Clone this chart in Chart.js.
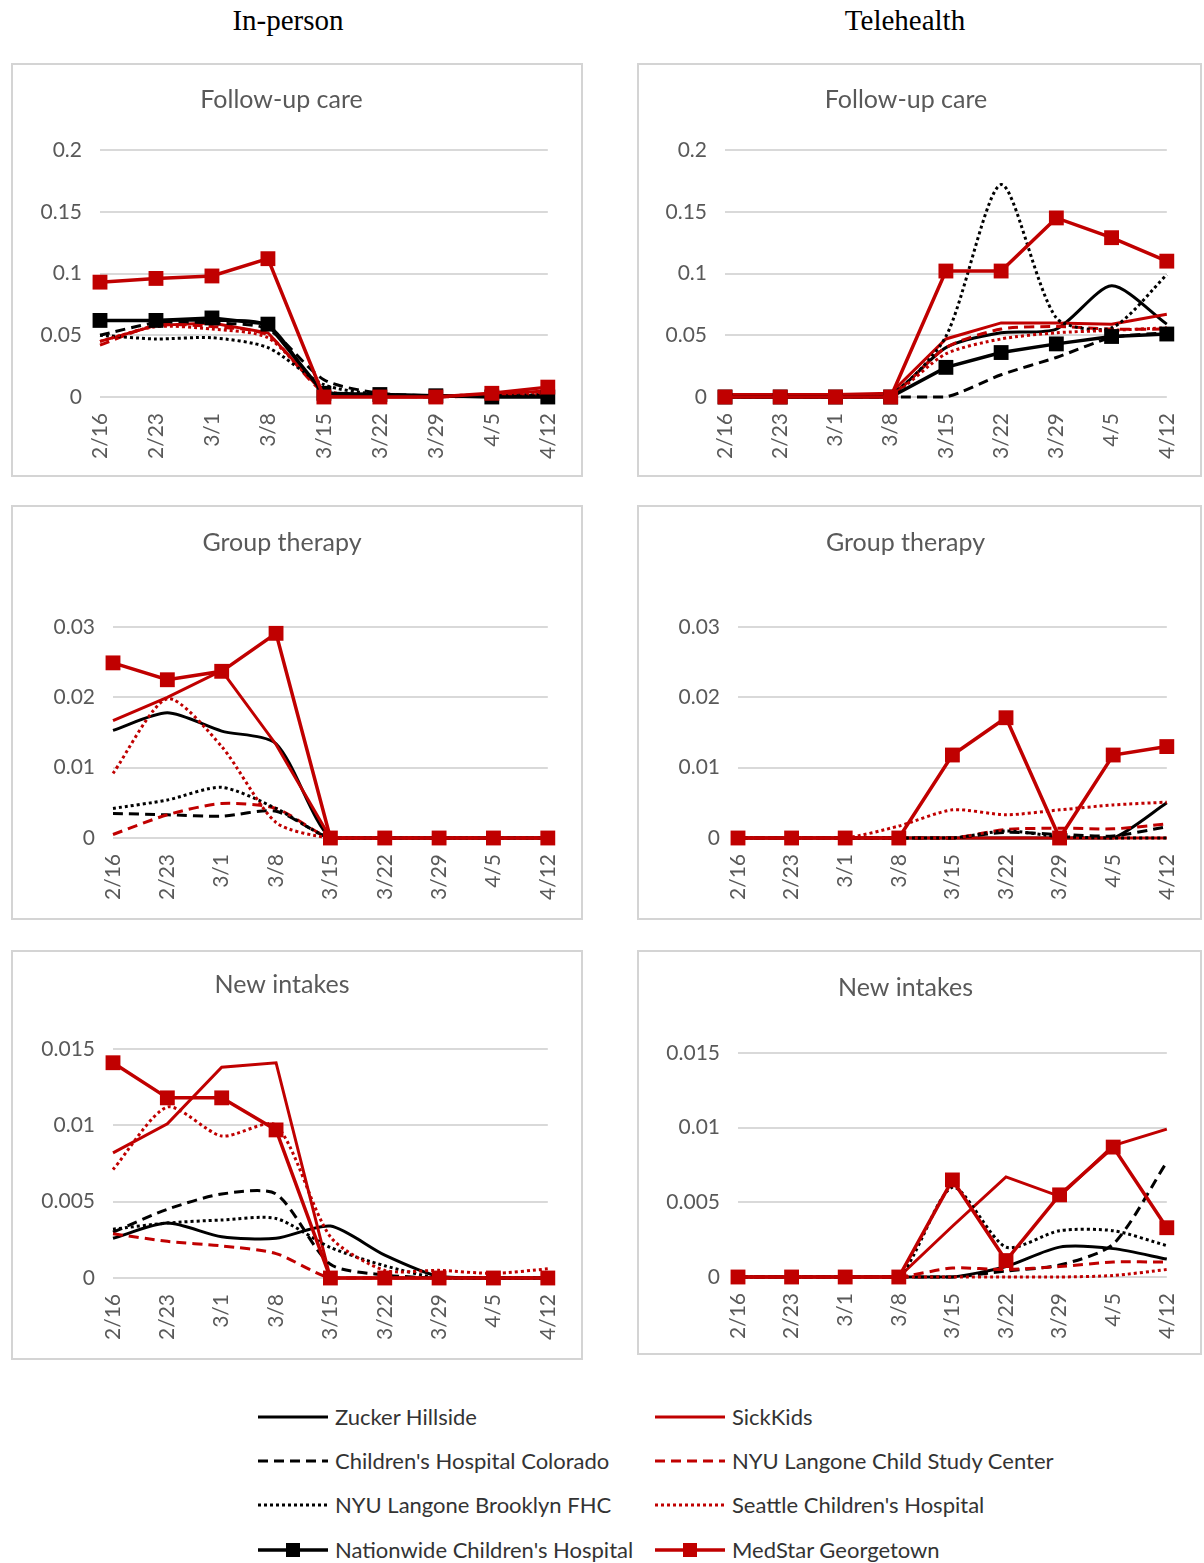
<!DOCTYPE html>
<html>
<head>
<title>Weekly visits by modality</title>
<script src="https://cdn.jsdelivr.net/npm/chart.js"></script>
<style>
  body { margin: 0; background: #fff; font-family: Lato, sans-serif; }
  #page { position: relative; width: 1204px; height: 1563px; }
  .head { position: absolute; top: 4px; font-family: "Liberation Serif", serif; font-size: 29px; color: #000; transform: translateX(-50%); }
  .panel { position: absolute; border: 2px solid #d4d4d4; box-sizing: border-box; background: #fff; }
  .panel canvas { position: absolute; left: 0; top: 0; }
  .leg { position: absolute; font-family: Lato, sans-serif; font-size: 22px; color: #333; white-space: nowrap; }
</style>
</head>
<body>
<div id="page">
  <div class="head" style="left:288px">In-person</div>
  <div class="head" style="left:905px">Telehealth</div>
</div>
<script>
// weeks and sites (rows of each panel follow the hospitals order)
const weeks = ['2/16', '2/23', '3/1', '3/8', '3/15', '3/22', '3/29', '4/5', '4/12'];
const hospitals = ['Zucker Hillside', 'SickKids', "Children's Hospital Colorado", 'NYU Langone Child Study Center',
  'NYU Langone Brooklyn FHC', "Seattle Children's Hospital", "Nationwide Children's Hospital", 'MedStar Georgetown'];

const inPersonFollowUp = [
  [0.062, 0.062, 0.062, 0.058, 0.005, 0.002, 0.001, 0.001, 0.001],
  [0.045, 0.058, 0.060, 0.052, 0.003, 0, 0, 0.002, 0.005],
  [0.050, 0.060, 0.060, 0.055, 0.014, 0.003, 0.001, 0.001, 0.001],
  [0.042, 0.058, 0.057, 0.050, 0.004, 0.001, 0, 0.001, 0.002],
  [0.050, 0.047, 0.048, 0.040, 0.010, 0.002, 0.001, 0.001, 0.002],
  [0.045, 0.057, 0.055, 0.048, 0.006, 0.001, 0.001, 0.002, 0.004],
  [0.062, 0.062, 0.064, 0.059, 0.003, 0.002, 0.001, 0, 0],
  [0.093, 0.096, 0.098, 0.112, 0, 0, 0, 0.003, 0.008]
];
const teleFollowUp = [
  [0, 0, 0, 0.002, 0.040, 0.052, 0.055, 0.090, 0.059],
  [0.002, 0.002, 0.002, 0.003, 0.047, 0.060, 0.060, 0.059, 0.067],
  [0, 0, 0, 0, 0, 0.018, 0.032, 0.048, 0.052],
  [0.002, 0.002, 0.002, 0.002, 0.040, 0.055, 0.057, 0.055, 0.055],
  [0, 0, 0, 0.002, 0.049, 0.172, 0.064, 0.056, 0.099],
  [0.002, 0.002, 0.002, 0.002, 0.035, 0.047, 0.052, 0.054, 0.056],
  [0, 0, 0, 0, 0.024, 0.036, 0.043, 0.049, 0.051],
  [0, 0, 0, 0, 0.102, 0.102, 0.145, 0.129, 0.110]
];
// Nationwide has no group therapy or intake series
const inPersonGroup = [
  [0.0153, 0.0178, 0.0152, 0.0134, 0, 0, 0, 0, 0],
  [0.0167, 0.0200, 0.0238, 0.0133, 0, 0, 0, 0, 0],
  [0.0035, 0.0033, 0.0031, 0.0038, 0, 0, 0, 0, 0],
  [0.0005, 0.0033, 0.0049, 0.0042, 0, 0, 0, 0, 0],
  [0.0042, 0.0054, 0.0072, 0.0042, 0, 0, 0, 0, 0],
  [0.0092, 0.0198, 0.0130, 0.0022, 0, 0, 0, 0, 0],
  [],
  [0.0249, 0.0225, 0.0237, 0.0291, 0, 0, 0, 0, 0]
];
const teleGroup = [
  [0, 0, 0, 0, 0, 0, 0, 0, 0.0050],
  [0, 0, 0, 0, 0, 0, 0, 0, 0],
  [0, 0, 0, 0, 0, 0.0008, 0.0005, 0.0003, 0.0016],
  [0, 0, 0, 0, 0, 0.0012, 0.0014, 0.0013, 0.0020],
  [0, 0, 0, 0, 0, 0.0010, 0.0002, 0, 0],
  [0, 0, 0, 0.0017, 0.0040, 0.0033, 0.0040, 0.0047, 0.0051],
  [],
  [0, 0, 0, 0, 0.0118, 0.0171, 0, 0.0118, 0.0130]
];
const inPersonIntakes = [
  [0.0026, 0.0036, 0.0027, 0.0026, 0.0034, 0.0015, 0.0001, 0, 0],
  [0.0082, 0.0101, 0.0138, 0.0141, 0, 0, 0, 0, 0],
  [0.0030, 0.0045, 0.0055, 0.0055, 0.0009, 0.0002, 0, 0, 0],
  [0.0029, 0.0024, 0.0021, 0.0016, 0, 0, 0, 0, 0],
  [0.0032, 0.0036, 0.0038, 0.0039, 0.0020, 0.0008, 0, 0, 0],
  [0.0071, 0.0112, 0.0093, 0.0100, 0.0027, 0.0005, 0.0005, 0.0003, 0.0006],
  [],
  [0.0141, 0.0118, 0.0118, 0.0097, 0, 0, 0, 0, 0]
];
const teleIntakes = [
  [0, 0, 0, 0, 0, 0.0007, 0.0020, 0.0019, 0.0012],
  [0, 0, 0, 0, 0.0034, 0.0067, 0.0054, 0.0088, 0.0099],
  [0, 0, 0, 0, 0, 0.0004, 0.0008, 0.0022, 0.0077],
  [0, 0, 0, 0, 0.0006, 0.0005, 0.0007, 0.0010, 0.0010],
  [0, 0, 0, 0, 0.0060, 0.0020, 0.0031, 0.0031, 0.0021],
  [0, 0, 0, 0, 0, 0, 0, 0.0001, 0.0005],
  [],
  [0, 0, 0, 0, 0.0065, 0.0011, 0.0055, 0.0087, 0.0033]
];

// line look per hospital
const RED = '#c00000';
const styles = [
  { color: '#000', dash: [], marker: false, smooth: true },
  { color: RED, dash: [], marker: false, smooth: false },
  { color: '#000', dash: [10, 6], marker: false, smooth: true },
  { color: RED, dash: [10, 6], marker: false, smooth: true },
  { color: '#000', dash: [3, 3], marker: false, smooth: true },
  { color: RED, dash: [3, 3], marker: false, smooth: true },
  { color: '#000', dash: [], marker: true, smooth: false },
  { color: RED, dash: [], marker: true, smooth: false }
];

// panel box on the page and wanted plot area inside it
const panels = [
  { title: 'Follow-up care', rows: inPersonFollowUp, max: 0.2, step: 0.05, box: [11, 63, 572, 414], L: 87, R: 31, T: 85, xh: 78, tc: 35 },
  { title: 'Follow-up care', rows: teleFollowUp, max: 0.2, step: 0.05, box: [637, 63, 565, 414], L: 86, R: 27, T: 85, xh: 78, tc: 35 },
  { title: 'Group therapy', rows: inPersonGroup, max: 0.03, step: 0.01, box: [11, 505, 572, 415], L: 100, R: 30, T: 120, xh: 80, tc: 36 },
  { title: 'Group therapy', rows: teleGroup, max: 0.03, step: 0.01, box: [637, 505, 565, 415], L: 99, R: 28, T: 120, xh: 80, tc: 36 },
  { title: 'New intakes', rows: inPersonIntakes, max: 0.015, step: 0.005, box: [11, 950, 572, 410], L: 100, R: 30, T: 97, xh: 80, tc: 33 },
  { title: 'New intakes', rows: teleIntakes, max: 0.015, step: 0.005, box: [637, 950, 565, 405], L: 99, R: 28, T: 101, xh: 76, tc: 36 }
];

const page = document.getElementById('page');
const tickFont = { family: 'Lato, sans-serif', size: 21 };

panels.forEach(p => {
  const [x, y, w, h] = p.box;
  const div = document.createElement('div');
  div.className = 'panel';
  div.style.cssText = `left:${x}px;top:${y}px;width:${w}px;height:${h}px`;
  const cv = document.createElement('canvas');
  div.appendChild(cv);
  page.appendChild(div);
  const cw = w - 4, ch = h - 4;
  cv.width = cw; cv.height = ch;
  cv.style.width = cw + 'px'; cv.style.height = ch + 'px';

  const datasets = hospitals.map((name, i) => {
    const s = styles[i];
    return {
      label: name,
      data: p.rows[i],
      borderColor: s.color,
      backgroundColor: s.color,
      borderWidth: s.marker ? 3.5 : 3,
      borderDash: s.dash,
      tension: s.smooth ? 0.25 : 0,
      pointStyle: 'rect',
      pointRadius: s.marker ? 10.5 : 0,
      pointBorderWidth: 0,
      clip: false,
      order: 8 - i
    };
  });

  const titleH = 25 * 1.2;
  new Chart(cv, {
    type: 'line',
    data: { labels: weeks, datasets: datasets },
    options: {
      responsive: false,
      animation: false,
      layout: { padding: { left: 0, right: p.R, top: 0, bottom: 0 } },
      plugins: {
        legend: { display: false },
        tooltip: { enabled: false },
        title: {
          display: true,
          text: p.title,
          color: '#595959',
          font: { family: 'Lato, sans-serif', size: 25, weight: 'normal', lineHeight: 1.2 },
          padding: { top: p.tc - titleH / 2, bottom: p.T - p.tc - titleH / 2 }
        }
      },
      scales: {
        x: {
          offset: false,
          grid: { display: false },
          border: { display: false },
          ticks: { color: '#595959', font: tickFont, minRotation: 90, maxRotation: 90, padding: 8, autoSkip: false },
          afterFit: s => { s.height = p.xh; }
        },
        y: {
          min: 0,
          max: p.max,
          grid: { color: '#d9d9d9', lineWidth: 2, drawTicks: false },
          border: { display: false },
          ticks: {
            stepSize: p.step,
            color: '#595959',
            font: tickFont,
            padding: 18,
            callback: v => String(+v.toFixed(4))
          },
          afterFit: s => { s.width = p.L; }
        }
      }
    }
  });
});

// legend, two columns like the source
const legendRows = [1417, 1461, 1505, 1550];
hospitals.forEach((name, i) => {
  const s = styles[i];
  const col = i % 2, row = Math.floor(i / 2);
  const lx = col ? 655 : 258;
  const ly = legendRows[row];
  const svgNS = 'http://www.w3.org/2000/svg';
  const svg = document.createElementNS(svgNS, 'svg');
  svg.setAttribute('width', 72); svg.setAttribute('height', 20);
  svg.style.cssText = `position:absolute;left:${lx}px;top:${ly - 10}px`;
  const ln = document.createElementNS(svgNS, 'line');
  ln.setAttribute('x1', 0); ln.setAttribute('x2', 70); ln.setAttribute('y1', 10); ln.setAttribute('y2', 10);
  ln.setAttribute('stroke', s.color);
  ln.setAttribute('stroke-width', s.marker ? 3.5 : 3);
  if (s.dash.length) ln.setAttribute('stroke-dasharray', s.dash.join(' '));
  svg.appendChild(ln);
  if (s.marker) {
    const r = document.createElementNS(svgNS, 'rect');
    r.setAttribute('x', 28); r.setAttribute('y', 3); r.setAttribute('width', 14); r.setAttribute('height', 14);
    r.setAttribute('fill', s.color);
    svg.appendChild(r);
  }
  page.appendChild(svg);
  const t = document.createElement('div');
  t.className = 'leg';
  t.textContent = name;
  t.style.left = (lx + 77) + 'px';
  t.style.top = (ly - 14) + 'px';
  page.appendChild(t);
});
</script>
</body>
</html>
